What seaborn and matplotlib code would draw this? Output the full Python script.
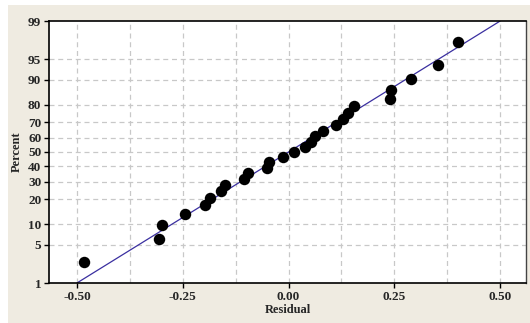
from statistics import NormalDist
import numpy as np
import pandas as pd
import seaborn as sns
import matplotlib.pyplot as plt
from matplotlib.patches import Rectangle

# ------------------------------
# Data
# ------------------------------
residuals = [-0.484, -0.306, -0.300, -0.244, -0.198, -0.186, -0.160, -0.150,
             -0.106, -0.096, -0.052, -0.047, -0.012, 0.012, 0.040, 0.052,
             0.063, 0.082, 0.113, 0.129, 0.141, 0.155, 0.239, 0.242,
             0.289, 0.354, 0.401]
fit_x = [-0.50, 0.50]
fit_pct = [1, 99]
pct_ticks = [1, 5, 10, 20, 30, 40, 50, 60, 70, 80, 90, 95, 99]
x_ticks = [-0.50, -0.25, 0.00, 0.25, 0.50]

nd = NormalDist()
z = lambda p: nd.inv_cdf(p / 100.0)

# median ranks for a normal probability plot
n = len(residuals)
pct = [(i - 0.3) / (n + 0.4) * 100 for i in range(1, n + 1)]
df = pd.DataFrame({"Residual": residuals, "z": [z(p) for p in pct]})
fit = pd.DataFrame({"Residual": fit_x, "z": [z(p) for p in fit_pct]})

# ------------------------------
# Figure
# ------------------------------
sns.set_style("white")
plt.rcParams["font.family"] = ["Liberation Serif", "DejaVu Serif"]

fig = plt.figure(figsize=(5.30, 3.23), dpi=100)
fig.patch.set_facecolor("white")
bg = Rectangle((8 / 530, 0), 1, 1 - 5 / 323, transform=fig.transFigure,
               facecolor="#efebe1", edgecolor="none", zorder=-10)
fig.add_artist(bg)
ax = fig.add_axes([49 / 530, 1 - 283 / 323, 477 / 530, 262 / 323])
ax.set_zorder(1)
ax.set_facecolor("white")

# grid
for gx in np.arange(-0.5, 0.51, 0.125):
    ax.axvline(gx, color="#c8c8c8", lw=0.9, ls=(0, (4, 3)), zorder=0)
for p in pct_ticks[1:-1]:
    ax.axhline(z(p), color="#c8c8c8", lw=0.9, ls=(0, (4, 3)), zorder=0)

sns.lineplot(data=fit, x="Residual", y="z", color="#3a2fa0", lw=0.9, ax=ax, zorder=2)
sns.scatterplot(data=df, x="Residual", y="z", color="black", s=68,
                edgecolor="black", linewidth=0, ax=ax, zorder=3)

ax.set_xlim(-0.566, 0.561)
ax.set_ylim(z(1), z(99))
ax.set_xticks(x_ticks)
ax.set_xticklabels([f"{v:.2f}" for v in x_ticks])
ax.set_yticks([z(p) for p in pct_ticks])
ax.set_yticklabels([str(p) for p in pct_ticks])
ax.tick_params(axis="both", length=3.5, width=1, color="black", labelsize=9.5,
               pad=2, direction="out", bottom=True, left=True)
for lab in ax.get_xticklabels() + ax.get_yticklabels():
    lab.set_fontweight("bold")

ax.set_xlabel("Residual", fontsize=9, fontweight="bold", labelpad=1)
ax.set_ylabel("Percent", fontsize=9, fontweight="bold", labelpad=4)

for side in ["left", "bottom", "top"]:
    ax.spines[side].set_color("black")
    ax.spines[side].set_linewidth(1.2)
ax.spines["right"].set_color("#444444")
ax.spines["right"].set_linewidth(1)

fig.savefig("out.png", dpi=100, facecolor=fig.get_facecolor())
